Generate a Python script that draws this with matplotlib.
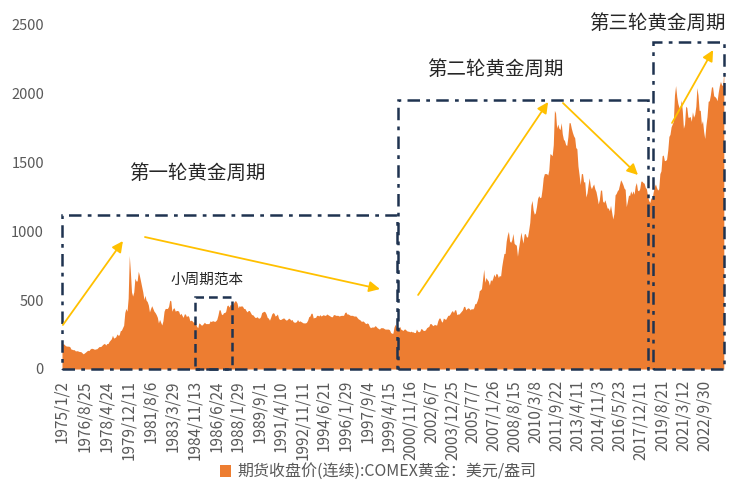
import matplotlib
matplotlib.use('Agg')
import matplotlib.pyplot as plt
import matplotlib.dates as mdates
from matplotlib.patches import Rectangle, Patch
import numpy as np
import pandas as pd

plt.rcParams['font.family'] = ['Noto Sans CJK SC', 'DejaVu Sans']

# ---------------- data (monthly, USD/oz) ----------------
start_month = '1975-01-01'
prices_1975_1984 = [
    185, 182, 180, 170, 167, 166, 166, 162, 145, 143, 140, 140,
    131, 133, 132, 128, 127, 125, 117, 110, 117, 123, 131, 136,
    134, 145, 150, 150, 147, 143, 146, 147, 155, 163, 163, 166,
    176, 183, 186, 174, 185, 185, 200, 210, 220, 245, 225, 228,
    235, 255, 245, 248, 278, 282, 300, 318, 410, 440, 420, 515,
    825, 700, 560, 530, 560, 660, 640, 640, 710, 680, 640, 600,
    560, 505, 535, 500, 490, 465, 415, 440, 460, 440, 420, 410,
    395, 375, 335, 360, 340, 320, 350, 420, 440, 440, 440, 455,
    500, 495, 420, 440, 445, 420, 425, 425, 420, 395, 405, 390,
    375, 400, 400, 380, 390, 380, 350, 355, 350, 340, 345, 330,
]
prices_1985_1994 = [
    310, 300, 335, 330, 320, 320, 330, 340, 330, 330, 330, 330,
    350, 345, 350, 350, 345, 350, 360, 390, 430, 430, 400, 395,
    410, 410, 420, 460, 465, 450, 470, 465, 465, 480, 495, 495,
    480, 445, 460, 455, 460, 455, 440, 440, 425, 415, 425, 425,
    410, 395, 395, 385, 375, 375, 380, 370, 370, 380, 410, 415,
    420, 415, 400, 375, 370, 355, 375, 400, 410, 405, 385, 390,
    400, 370, 360, 360, 365, 370, 370, 360, 355, 360, 370, 365,
    355, 360, 345, 340, 340, 345, 360, 345, 350, 345, 340, 335,
    335, 335, 340, 355, 380, 385, 405, 405, 370, 375, 375, 390,
    390, 385, 395, 385, 390, 395, 390, 390, 400, 395, 390, 385,
]
prices_1995_2004 = [
    380, 380, 395, 395, 390, 390, 390, 385, 388, 390, 390, 390,
    410, 415, 400, 400, 395, 390, 390, 390, 385, 385, 385, 375,
    365, 360, 355, 345, 350, 345, 335, 330, 335, 330, 310, 300,
    305, 305, 305, 315, 310, 300, 295, 290, 300, 300, 300, 295,
    290, 290, 290, 290, 285, 265, 260, 260, 305, 325, 300, 290,
    290, 310, 290, 285, 280, 290, 290, 280, 275, 275, 270, 275,
    270, 270, 265, 265, 290, 275, 270, 275, 295, 290, 280, 280,
    285, 300, 305, 310, 330, 330, 320, 315, 325, 320, 320, 350,
    370, 370, 350, 340, 370, 365, 360, 375, 390, 390, 400, 416,
    425, 410, 430, 430, 395, 400, 400, 410, 420, 430, 455, 455,
]
prices_2005_2014 = [
    430, 440, 445, 440, 430, 440, 435, 445, 475, 475, 495, 520,
    570, 575, 585, 655, 725, 630, 665, 650, 640, 610, 650, 640,
    660, 690, 670, 695, 690, 665, 680, 675, 745, 795, 840, 840,
    930, 975, 1000, 930, 920, 940, 985, 915, 905, 900, 820, 880,
    935, 995, 955, 915, 980, 985, 960, 960, 1010, 1065, 1190, 1225,
    1155, 1125, 1135, 1180, 1240, 1260, 1245, 1250, 1310, 1390, 1420, 1420,
    1420, 1410, 1445, 1565, 1560, 1550, 1630, 1880, 1860, 1750, 1780, 1750,
    1740, 1790, 1710, 1670, 1660, 1630, 1625, 1690, 1790, 1790, 1750, 1720,
    1695, 1680, 1610, 1600, 1475, 1410, 1340, 1420, 1420, 1360, 1360, 1250,
    1280, 1340, 1390, 1330, 1310, 1330, 1345, 1310, 1290, 1250, 1200, 1230,
]
prices_2015_2024 = [
    1300, 1300, 1220, 1210, 1230, 1200, 1170, 1170, 1150, 1190, 1140, 1090,
    1130, 1265, 1275, 1295, 1305, 1340, 1375, 1360, 1340, 1315, 1305, 1180,
    1220, 1265, 1260, 1295, 1270, 1295, 1270, 1330, 1355, 1300, 1295, 1310,
    1365, 1365, 1355, 1350, 1320, 1310, 1260, 1225, 1210, 1245, 1235, 1285,
    1325, 1345, 1320, 1300, 1310, 1420, 1440, 1550, 1555, 1515, 1515, 1525,
    1590, 1690, 1705, 1760, 1780, 1800, 1990, 2060, 1980, 1930, 1900, 1900,
    1955, 1870, 1750, 1780, 1910, 1900, 1830, 1830, 1835, 1800, 1870, 1830,
    1850, 1910, 2045, 1990, 1880, 1880, 1780, 1805, 1725, 1675, 1770, 1835,
    1945, 1950, 1990, 2050, 2050, 1985, 1980, 1970, 1950, 2010, 2060, 2090,
    2065, 2060, 2165,
]

tick_labels = [
    '1975/1/2', '1976/8/25', '1978/4/24', '1979/12/11', '1981/8/6', '1983/3/29',
    '1984/11/13', '1986/6/24', '1988/1/29', '1989/9/1', '1991/4/10', '1992/11/11',
    '1994/6/21', '1996/1/29', '1997/9/4', '1999/4/15', '2000/11/16', '2002/6/7',
    '2003/12/25', '2005/7/7', '2007/1/26', '2008/8/15', '2010/3/8', '2011/9/22',
    '2013/4/11', '2014/11/3', '2016/5/23', '2017/12/11', '2019/8/21', '2021/3/12',
    '2022/9/30',
]
y_ticks = [0, 500, 1000, 1500, 2000, 2500]
series_name = '期货收盘价(连续):COMEX黄金：美元/盎司'

# ---------------- build ----------------
prices = np.array(prices_1975_1984 + prices_1985_1994 + prices_1995_2004
                  + prices_2005_2014 + prices_2015_2024, dtype=float)
dates = pd.date_range(start_month, periods=len(prices), freq='MS')
xd = mdates.date2num(dates.to_pydatetime())

def d(s):
    return mdates.date2num(pd.Timestamp(s).to_pydatetime())

ORANGE = '#ED7D31'
NAVY = '#1F3350'
GOLD = '#FFC000'
GRAY = '#595959'

fig = plt.figure(figsize=(7.39, 5.0), dpi=100)
ax = fig.add_axes([0.0839, 0.262, 0.896, 0.688])

ax.fill_between(xd, 0, prices, color=ORANGE, lw=0)
ax.set_xlim(d('1975-01-01'), d('2024-03-10'))
ax.set_ylim(0, 2500)

for s in ax.spines.values():
    s.set_visible(False)

ax.set_yticks(y_ticks)
ax.set_yticklabels([str(v) for v in y_ticks], color=GRAY, fontsize=10.5)
tick_pos = [d(pd.to_datetime(t, format='%Y/%m/%d')) for t in tick_labels]
ax.set_xticks(tick_pos)
ax.set_xticklabels(tick_labels, rotation=90, color=GRAY, fontsize=11)
ax.tick_params(axis='both', length=0)
ax.tick_params(axis='y', pad=13)
ax.tick_params(axis='x', pad=8)

# dash-dot cycle boxes
dashdot = (0, (5, 2.5, 1.5, 2.5))
boxes = [('1975-01-02', '1999-11-20', 1120),
         ('1999-12-20', '2018-07-15', 1955),
         ('2018-11-25', '2024-03-08', 2376)]
for x0, x1, top in boxes:
    r = Rectangle((d(x0), 0), d(x1) - d(x0), top, fill=False, edgecolor=NAVY,
                  lw=1.8, linestyle=dashdot, clip_on=False, zorder=3)
    ax.add_patch(r)
r = Rectangle((d('1984-11-15'), 0), d('1987-08-15') - d('1984-11-15'), 523,
              fill=False, edgecolor=NAVY, lw=1.8, linestyle=(0, (3.5, 2)),
              clip_on=False, zorder=3)
ax.add_patch(r)

# arrows
arrows = [(('1975-01-25', 320), ('1979-07-12', 930)),
          (('1981-03-01', 959), ('1998-08-15', 581)),
          (('2001-06-15', 538), ('2011-02-10', 1940)),
          (('2012-03-20', 1933), ('2017-10-15', 1410)),
          (('2020-04-25', 1788), ('2023-05-15', 2318))]
for (s0, v0), (s1, v1) in arrows:
    ax.annotate('', xy=(d(s1), v1), xytext=(d(s0), v0),
                arrowprops=dict(arrowstyle='-|>', color=GOLD, lw=1.3,
                                mutation_scale=16, shrinkA=0, shrinkB=0),
                zorder=4, annotation_clip=False)

# texts
ax.text(d('1985-01-10'), 1424, '第一轮黄金周期', fontsize=14, ha='center', va='center', color='#262626')
ax.text(d('2007-03-01'), 2180, '第二轮黄金周期', fontsize=14, ha='center', va='center', color='#262626')
ax.text(d('2019-03-15'), 2515, '第三轮黄金周期', fontsize=14, ha='center', va='center', color='#262626', clip_on=False)
ax.text(d('1985-10-10'), 647, '小周期范本', fontsize=10.5, ha='center', va='center', color='#262626')

handle = Patch(facecolor=ORANGE, edgecolor='none')
fig.legend([handle], [series_name], loc='center', bbox_to_anchor=(0.512, 0.056),
           frameon=False, fontsize=11.5, handlelength=0.7, handleheight=0.7,
           handletextpad=0.4, labelcolor=GRAY)

fig.savefig('out.png', dpi=100, facecolor='white')
